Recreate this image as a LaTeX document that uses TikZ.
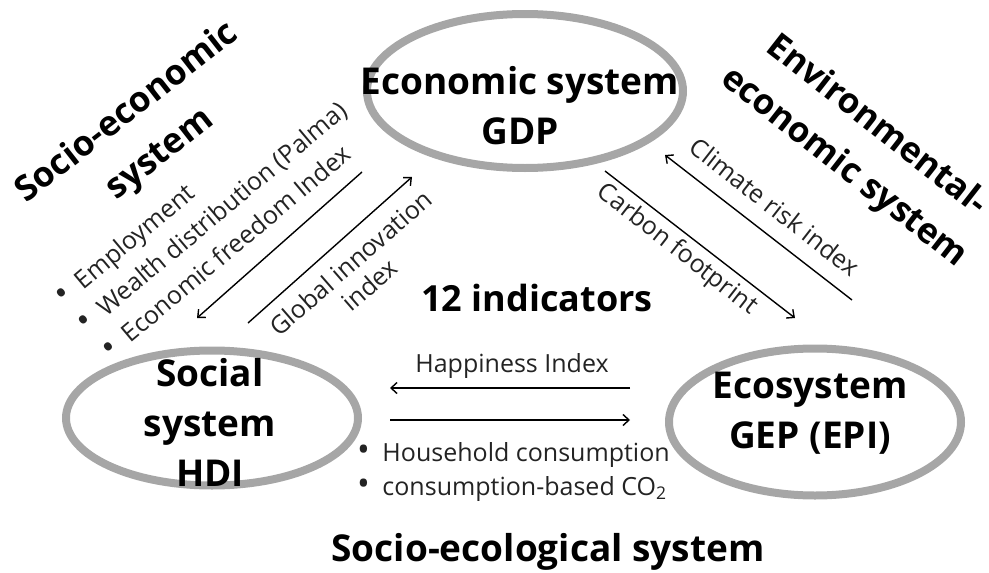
\documentclass[tikz,border=0pt]{standalone}
\usepackage{fontspec}
\setmainfont{Open Sans}
\usetikzlibrary{shapes.geometric,arrows.meta}
\definecolor{ringgray}{RGB}{166,166,166}
\definecolor{labelgray}{RGB}{35,35,35}
\newcommand{\dotitem}{{\fontsize{34}{28}\selectfont\textbullet}\enspace}

\begin{document}
\begin{tikzpicture}[x=1pt,y=1pt,
    ring/.style={ellipse,draw=ringgray,line width=8pt,inner sep=0pt},
    systext/.style={align=center,font=\bfseries\fontsize{37}{50}\selectfont},
    heading/.style={align=center,font=\bfseries\fontsize{35}{53}\selectfont},
    lbl/.style={font=\fontsize{25}{29}\selectfont,text=labelgray,inner sep=0pt},
    flow/.style={line width=1.4pt,-{Straight Barb[length=6pt,width=11pt]}}]
    \useasboundingbox (0,0) rectangle (989,-573);

    % the three systems
    \node[ring,minimum width=316pt,minimum height=154pt] (econ) at (525,-91) {};
    \node[ring,minimum width=292pt,minimum height=135pt] (social) at (212,-418) {};
    \node[ring,minimum width=292pt,minimum height=147pt] (eco) at (815,-422) {};
    \node[systext] (econtxt) at (520,-106) {Economic system\\GDP};
    \node[systext] (socialtxt) at (210,-422) {Social\\system\\HDI};
    \node[systext] (ecotxt) at (810,-413) {Ecosystem\\GEP (EPI)};

    % headings
    \node[heading,rotate=38] (socecon) at (144,-134) {Socio-economic\\system};
    \node[heading,rotate=-38] (envecon) at (860,-147) {Environmental-\\economic system};
    \node[heading,font=\bfseries\fontsize{37}{44}\selectfont] (socecol) at (548,-552) {Socio-ecological system};
    \node[font=\bfseries\fontsize{36}{40}\selectfont] (count) at (537,-298) {12 indicators};

    % social <-> economic
    \coordinate (freedomTail) at (362,-172);
    \coordinate (freedomTip) at (197,-318);
    \coordinate (innovTail) at (248,-323);
    \coordinate (innovTip) at (412,-177);
    \draw[flow] (freedomTail) -- (freedomTip);
    \draw[flow] (innovTail) -- (innovTip);
    \node[lbl,rotate=40,anchor=west] (employ) at (60,-302) {\dotitem Employment};
    \node[lbl,rotate=40,anchor=west] (palma) at (82,-328) {\dotitem Wealth distribution (Palma)};
    \node[lbl,rotate=40,anchor=west] (freedom) at (105,-353) {\dotitem Economic freedom Index};
    \node[lbl,rotate=41,align=center] (innov) at (360,-274) {Global innovation\\index};

    % economic <-> ecosystem
    \coordinate (carbonTail) at (605,-171);
    \coordinate (carbonTip) at (795,-318);
    \coordinate (climateTail) at (852,-300);
    \coordinate (climateTip) at (665,-155);
    \draw[flow] (carbonTail) -- (carbonTip);
    \draw[flow] (climateTail) -- (climateTip);
    \node[lbl,rotate=-38] (carbon) at (677,-250) {Carbon footprint};
    \node[lbl,rotate=-38] (climate) at (775,-207) {Climate risk index};

    % ecosystem <-> social
    \coordinate (happyTail) at (630,-388);
    \coordinate (happyTip) at (390,-388);
    \coordinate (consTail) at (390,-420);
    \coordinate (consTip) at (630,-420);
    \draw[flow] (happyTail) -- (happyTip);
    \draw[flow] (consTail) -- (consTip);
    \node[lbl] (happy) at (512,-366) {Happiness Index};
    \node[lbl,anchor=west] (household) at (357,-455) {\dotitem Household consumption};
    \node[lbl,anchor=west] (co2) at (357,-489) {\dotitem consumption-based CO\textsubscript{2}};
\end{tikzpicture}
\end{document}
